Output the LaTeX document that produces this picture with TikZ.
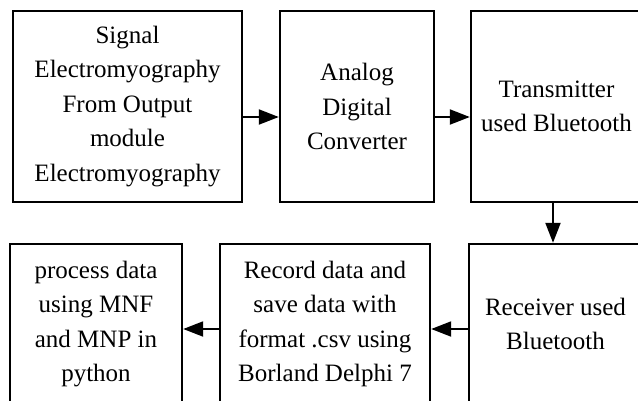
\documentclass[tikz,border=0pt]{standalone}
\usepackage{fontspec}
\setmainfont{Liberation Serif}
\usetikzlibrary{arrows.meta,calc}
\begin{document}
\begin{tikzpicture}[x=1pt,y=-1pt,
  blockbox/.style={draw=black,line width=2.4pt,rectangle,align=center,inner sep=0pt,
    font=\fontsize{25}{34.5}\selectfont},
  flow/.style={line width=2pt,-{Triangle[length=20pt,width=15pt]}}]
\useasboundingbox (0,0) rectangle (638,400);
\clip (0,0) rectangle (638,400);
% top row
\node[blockbox,minimum width=229pt,minimum height=191pt] (sig) at (127.5,106.5)
  {Signal\\Electromyography\\From Output\\module\\Electromyography};
\node[blockbox,minimum width=154pt,minimum height=191pt] (adc) at (357,106.5)
  {Analog\\Digital\\Converter};
\node[blockbox,minimum width=171pt,minimum height=191pt] (tx) at (556.5,106.5)
  {Transmitter\\used Bluetooth};
% bottom row
\node[blockbox,minimum width=173pt,minimum height=160pt] (rx) at (555.5,324)
  {Receiver used\\Bluetooth};
\node[blockbox,minimum width=210pt,minimum height=160pt] (rec) at (325,324)
  {Record data and\\save data with\\format .csv using\\Borland Delphi 7};
\node[blockbox,minimum width=172pt,minimum height=160pt] (proc) at (96,324)
  {process data\\using MNF\\and MNP in\\python};
% connector levels
\coordinate (toprow) at (0,117);
\coordinate (botrow) at (0,329);
\coordinate (downx) at (553,0);
\draw[flow] (sig.east |- toprow) -- (adc.west |- toprow);
\draw[flow] (adc.east |- toprow) -- (tx.west |- toprow);
\draw[flow] (tx.south -| downx) -- (rx.north -| downx);
\draw[flow] (rx.west |- botrow) -- (rec.east |- botrow);
\draw[flow] (rec.west |- botrow) -- (proc.east |- botrow);
\end{tikzpicture}
\end{document}
